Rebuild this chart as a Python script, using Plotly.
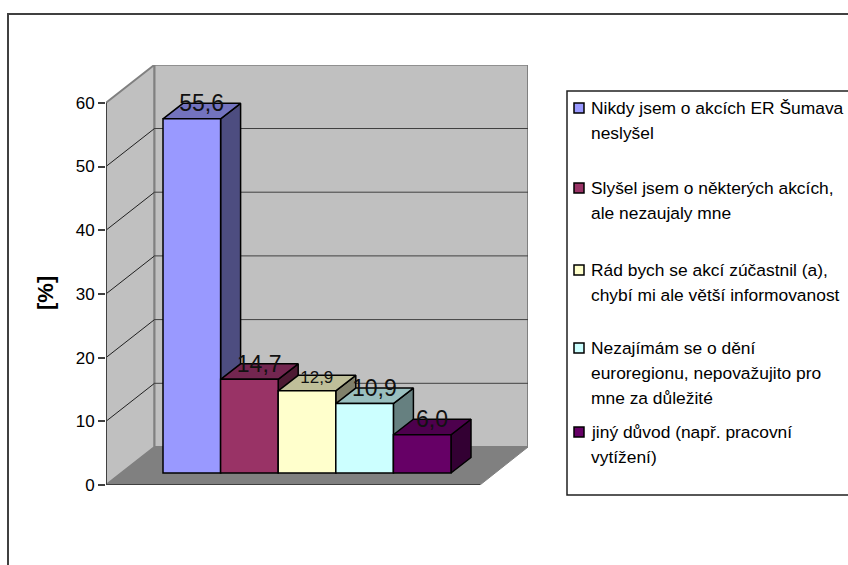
import plotly.graph_objects as go

VALUES = [55.6, 14.7, 12.9, 10.9, 6.0]
LABELS = ["55,6", "14,7", "12,9", "10,9", "6,0"]
LEGEND_LINES = [
    ["Nikdy jsem o akcích ER Šumava", "neslyšel"],
    ["Slyšel jsem o některých akcích,", "ale nezaujaly mne"],
    ["Rád bych se akcí zúčastnil (a),", "chybí mi ale větší informovanost"],
    ["Nezajímám se o dění", "euroregionu, nepovažujito pro", "mne za důležité"],
    ["jiný důvod (např. pracovní", "vytížení)"],
]
Y_TICKS = [0, 10, 20, 30, 40, 50, 60]

FRONT = ["#9999FF", "#993366", "#FFFFCC", "#CCFFFF", "#660066"]
TOP = ["#7373BF", "#732650", "#BFBF99", "#99BFBF", "#4D004D"]
SIDE = ["#4D4D80", "#4D1A33", "#80806A", "#668080", "#330033"]
LABEL_SIZE = [23, 23, 17, 23, 23]

# layout, in pixels
W, H = 848, 565
L, R, T, B = 106, 528, 65, 485
SLOT = 57.6
UNIT = 6.37
xmax = (R - L) / SLOT
ymax = (B - T) / UNIT
depth_x, depth_y = 48.5 / SLOT, 38 / UNIT
bar_dx, bar_dy = 20 / SLOT, 15.5 / UNIT
x0, y0 = 57 / SLOT, 12 / UNIT
floor_w = 374 / SLOT


def px(x):
    return (x - L) / (R - L)


def py(y):
    return (B - y) / (B - T)


WALL = "#C0C0C0"
EDGE = "#808080"
DARK = "#404040"
shapes = []


def poly(points, fill, line, width):
    path = "M" + " L".join(f"{a},{b}" for a, b in points) + " Z"
    shapes.append(dict(type="path", path=path, xref="x", yref="y", fillcolor=fill,
                       line=dict(color=line, width=width), layer="below"))


poly([(0, 0), (depth_x, depth_y), (depth_x, 60 + depth_y), (0, 60)], WALL, EDGE, 2)
poly([(depth_x, depth_y), (xmax, depth_y), (xmax, 60 + depth_y), (depth_x, 60 + depth_y)], WALL, EDGE, 2)
poly([(0, 0), (floor_w, 0), (xmax, depth_y), (depth_x, depth_y)], EDGE, EDGE, 1)
for v in Y_TICKS[1:-1]:
    shapes.append(dict(type="line", xref="x", yref="y", x0=depth_x, x1=xmax, y0=v + depth_y, y1=v + depth_y,
                       line=dict(color=DARK, width=1), layer="below"))
    shapes.append(dict(type="line", xref="x", yref="y", x0=0, x1=depth_x, y0=v, y1=v + depth_y,
                       line=dict(color="#202020", width=1), layer="below"))
shapes.append(dict(type="line", xref="x", yref="y", x0=0, x1=0, y0=0, y1=60,
                   line=dict(color=DARK, width=2), layer="below"))
shapes.append(dict(type="line", xref="x", yref="y", x0=0, x1=floor_w, y0=0, y1=0,
                   line=dict(color=DARK, width=2), layer="below"))

# frame and legend box
shapes.append(dict(type="rect", xref="paper", yref="paper", x0=px(8), x1=px(870), y0=py(14), y1=py(590),
                   line=dict(color=DARK, width=2), layer="below"))
shapes.append(dict(type="rect", xref="paper", yref="paper", x0=px(567), x1=px(870), y0=py(91), y1=py(495),
                   line=dict(color="#202020", width=1.5), layer="below"))

fig = go.Figure()
for i, v in enumerate(VALUES):
    left = x0 + i
    right = left + 1
    base = y0
    top = y0 + v
    z = 1 + i * 3
    fig.add_trace(go.Scatter(
        x=[right, right + bar_dx, right + bar_dx, right, right],
        y=[base, base + bar_dy, top + bar_dy, top, base],
        mode="lines", fill="toself", fillcolor=SIDE[i], line=dict(color="black", width=1.5),
        hoverinfo="skip", zorder=z))
    fig.add_trace(go.Scatter(
        x=[left, right, right + bar_dx, left + bar_dx, left],
        y=[top, top, top + bar_dy, top + bar_dy, top],
        mode="lines", fill="toself", fillcolor=TOP[i], line=dict(color="black", width=1.5),
        hoverinfo="skip", zorder=z + 1))
    fig.add_trace(go.Bar(
        x=[left + 0.5], y=[v], base=[base], width=[1], name=LEGEND_LINES[i][0],
        marker=dict(color=FRONT[i], line=dict(color="black", width=1.5)), zorder=z + 2))

fig.add_trace(go.Scatter(
    x=[x0 + i + 0.5 + 0.17 for i in range(len(VALUES))],
    y=[y0 + v + 13.5 / UNIT for v in VALUES],
    text=[f"<span style='font-size:{s}px'>{t}</span>" for t, s in zip(LABELS, LABEL_SIZE)],
    mode="text", textposition="middle center",
    textfont=dict(family="Liberation Sans", size=23, color="#111111"),
    hoverinfo="skip", cliponaxis=False, zorder=50))

# legend, written out as text because each entry has a fixed slot
annotations = [dict(text="<b>[%]</b>", textangle=-90, x=px(45), y=py(293), xref="paper", yref="paper",
                    xanchor="center", yanchor="middle",
                    showarrow=False, font=dict(family="Liberation Sans", size=22, color="black"))]
FIRST_LINE_Y = [108, 188, 270, 348, 432]
LINE_STEP = 25
for i, lines in enumerate(LEGEND_LINES):
    for j, line in enumerate(lines):
        annotations.append(dict(text=line, x=px(588.5), y=py(FIRST_LINE_Y[i] + j * LINE_STEP),
                                xref="paper", yref="paper", xanchor="left", yanchor="middle",
                                showarrow=False, font=dict(family="Liberation Sans", size=17.4, color="black")))
    shapes.append(dict(type="rect", xref="paper", yref="paper",
                       x0=px(574), x1=px(584), y0=py(FIRST_LINE_Y[i] - 5), y1=py(FIRST_LINE_Y[i] + 5),
                       fillcolor=FRONT[i], line=dict(color="black", width=1.5)))

fig.update_layout(
    width=W, height=H, margin=dict(l=L, r=W - R, t=T, b=H - B),
    paper_bgcolor="white", plot_bgcolor="white", showlegend=False, barmode="overlay",
    xaxis=dict(range=[0, xmax], visible=False, fixedrange=True),
    yaxis=dict(range=[0, ymax], tickmode="array", tickvals=Y_TICKS, ticks="outside", ticklen=7, tickwidth=1.5,
               tickcolor=DARK, showgrid=False, zeroline=False, showline=False, fixedrange=True,
               tickfont=dict(family="Liberation Sans", size=17, color="black")),
    shapes=shapes, annotations=annotations,
)

fig.write_html("out.html", config=dict(displayModeBar=False),
               post_script="document.body.style.margin='0';document.body.style.overflow='hidden';")
